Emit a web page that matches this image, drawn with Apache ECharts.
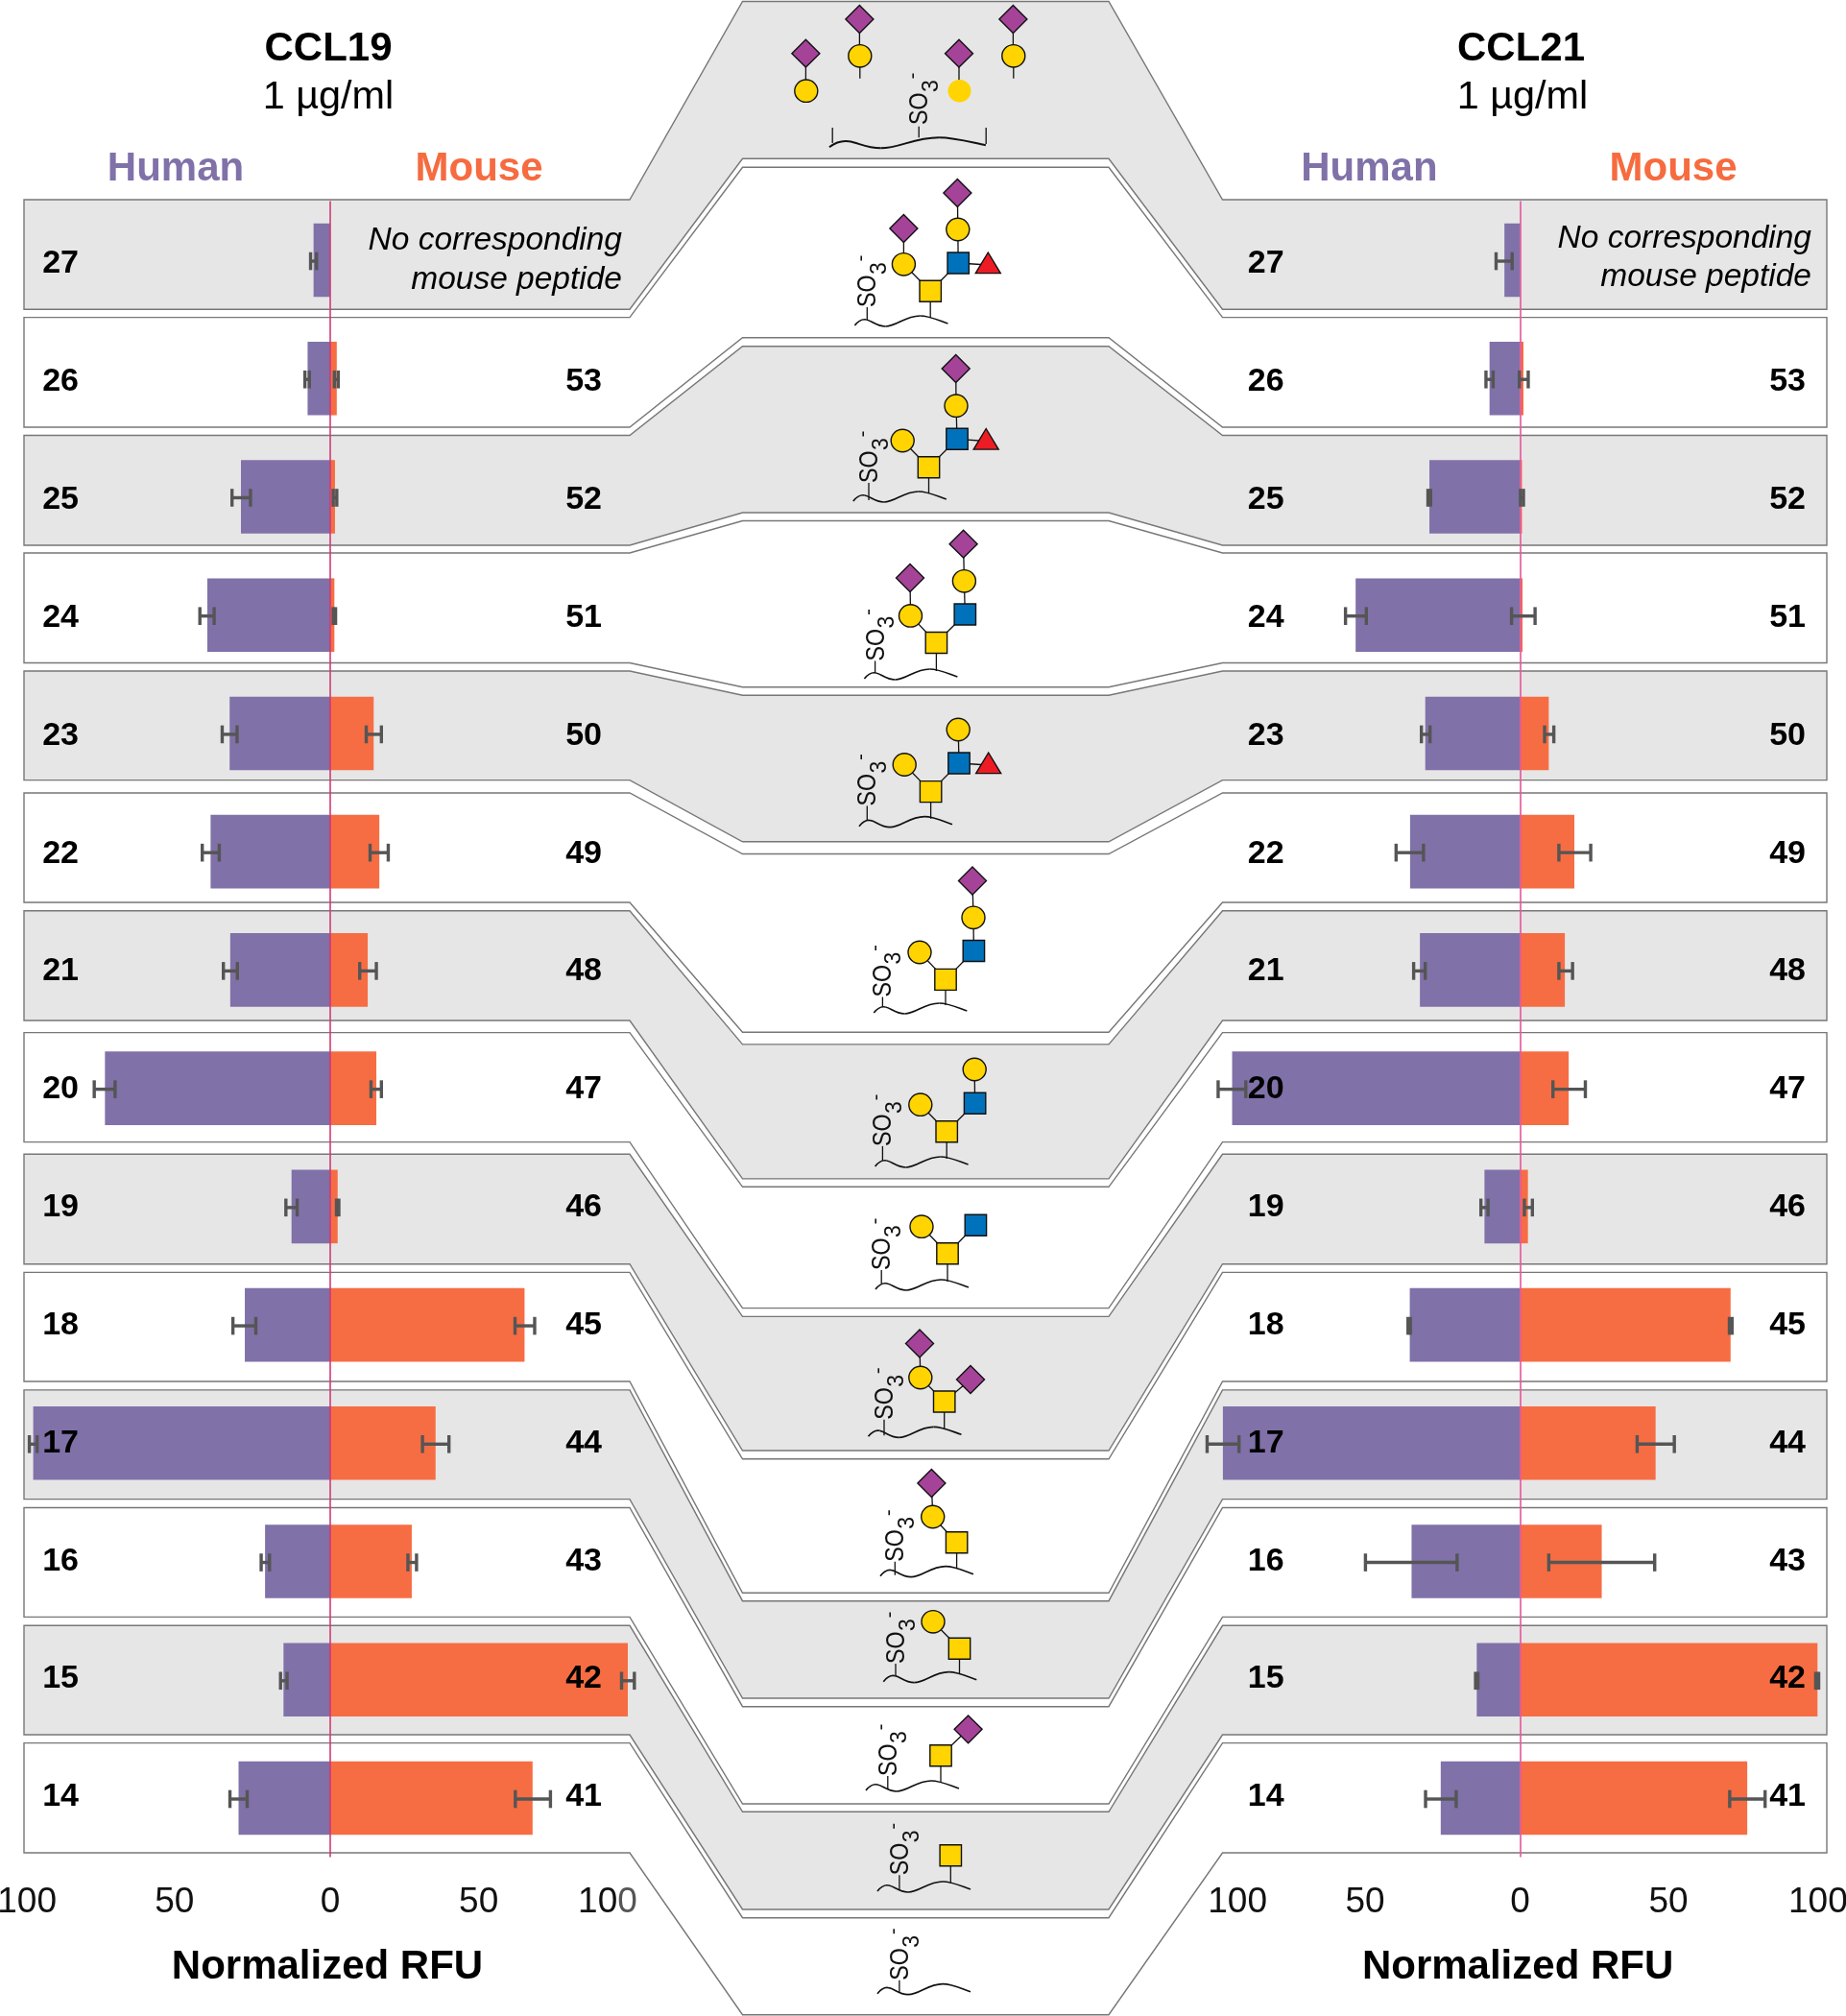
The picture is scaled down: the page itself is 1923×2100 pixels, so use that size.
<!DOCTYPE html>
<html><head><meta charset="utf-8">
<style>html,body{margin:0;padding:0;background:#fff}#c{width:1923px;height:2100px}</style>
<script src="https://cdn.jsdelivr.net/npm/echarts@6/dist/echarts.min.js"></script>
</head><body><div id="c"></div>
<script>
// ---------- DATA (top row first) ----------
const humanIds = ['27','26','25','24','23','22','21','20','19','18','17','16','15','14'];
const mouseIds = ['','53','52','51','50','49','48','47','46','45','44','43','42','41'];

const ccl19Human     = [-5.6,-7.6,-30,-41.3,-33.8,-40.2,-33.6,-75.7,-13,-28.7,-99.8,-21.9,-15.7,-30.8];
const ccl19HumanLow  = [-6.6,-8.5,-33,-43.8,-36.3,-43,-35.9,-79.3,-14.9,-32.7,-101.1,-23.2,-16.7,-33.7];
const ccl19HumanHigh = [-4.6,-7,-26.8,-39,-31.3,-37.3,-31.2,-72.3,-11.1,-25,-98.5,-20.4,-14.5,-27.9];
const ccl19Mouse     = [null,2.2,1.6,1.4,14.6,16.5,12.6,15.5,2.5,65.3,35.4,27.4,100,68];
const ccl19MouseLow  = [null,1.4,1,1,12.1,13.4,9.9,13.7,2.1,62.1,31,26.1,97.9,62.2];
const ccl19MouseHigh = [null,2.7,2.2,1.8,17.2,19.5,15.5,17.2,2.9,68.7,39.9,29,102.2,74];

const ccl21Human     = [-5.3,-10.3,-30.5,-55.3,-31.9,-37,-33.7,-96.8,-12,-37.1,-99.9,-36.5,-14.6,-26.7];
const ccl21HumanLow  = [-8.1,-11.5,-31,-58.7,-33.2,-41.7,-35.8,-101.5,-13.2,-37.7,-105.2,-52,-15,-31.8];
const ccl21HumanHigh = [-2.7,-9.1,-30.1,-51.7,-30.3,-32.5,-31.9,-92.2,-10.8,-36.9,-94.5,-21.2,-14.2,-21.5];
const ccl21Mouse     = [null,1.1,0.6,0.8,9.6,18.2,15,16.3,2.6,70.7,45.5,27.4,99.9,76.3];
const ccl21MouseLow  = [null,-0.3,0.1,-2.9,8.2,13,13,11,1.4,70.3,39.3,9.6,99.3,70.4];
const ccl21MouseHigh = [null,2.7,1.1,5,11.3,23.7,17.6,21.9,4.1,71.2,51.8,45.2,100.3,82.3];

const tickLabels = ['100','50','0','50','100'];
const ccl19TickPlaces = [-101.9,-52.3,0,49.9,93.2];
const ccl21TickPlaces = [-95,-52.1,0,49.8,100.1];

// ---------- LAYOUT ----------
const FONT = '"Liberation Sans", Arial, sans-serif';
const HUMAN = '#8071a9', MOUSE = '#f66d43', ERR = '#555555';
const PX = 3.1, RANGE = 108, GRID_TOP = 209.4, ROW = 123.23, BAR = 76.6;
const GRID_H = ROW * humanIds.length;

// band edges: left/right side top, bottom; centre top, bottom
const sideTop    = [208,330.6,453.5,576,699,826,948.8,1075.6,1202.3,1325.4,1447.9,1570.5,1693.3,1815.6];
const sideBottom = [322.2,445,568,690.5,812.6,940,1063,1189.6,1316.7,1439,1561.6,1684.4,1807,1930];
const midTop     = [1.5,174.3,360.7,542.5,724.2,889.5,1087.9,1236.3,1371.4,1519.8,1667.7,1777.7,1887.3,1997.7];
const midBottom  = [165.3,351.7,534,715.8,876.8,1075.3,1227.9,1362.6,1511,1659.3,1769,1879,1989,2098.7];

// glycan sketches: node = [kind, x, y]; link = [i, j]
const glycans = [
 {wave:[890.4,339],stem:903.3,so:[913.6,320],nodes:[['D',997.4,201],['C',997.8,239],['B',998.2,274],['T',1029.3,276],['G',969.2,303.3],['C',941.4,275.3],['D',941.4,238]],links:[[0,1],[1,2],[2,3],[2,4],[4,5],[5,6]]},
 {wave:[888.8,522],stem:905,so:[915.7,503],nodes:[['D',995.7,384],['C',996,422.7],['B',997,457.3],['T',1027.2,459.5],['G',967.5,486.7],['C',940.2,459]],links:[[0,1],[1,2],[2,3],[2,4],[4,5]]},
 {wave:[900.4,707],stem:911.6,so:[922,688.4],nodes:[['D',1003.6,566.7],['C',1004.4,605.3],['B',1005.3,640],['G',975.4,669.5],['C',948.5,641.4],['D',948,602]],links:[[0,1],[1,2],[2,3],[3,4],[4,5]]},
 {wave:[895,860.7],stem:903.3,so:[913.6,839.6],nodes:[['C',998.2,760],['B',999,795],['T',1029.7,797],['G',969.6,824.6],['C',942.2,796.5]],links:[[0,1],[1,2],[1,3],[3,4]]},
 {wave:[910.3,1055],stem:919.4,so:[929,1038.6],nodes:[['D',1013,917.5],['C',1014,955.8],['B',1014.4,990.5],['G',985,1020.4],['C',958,992]],links:[[0,1],[1,2],[2,3],[3,4]]},
 {wave:[911.6,1215],stem:919.4,so:[929.4,1193.9],nodes:[['C',1015.2,1114],['B',1015.6,1149.3],['G',986.2,1178.8],['C',958.8,1150.7]],links:[[0,1],[1,2],[2,3]]},
 {wave:[912,1343],stem:918.2,so:[928.6,1323],nodes:[['B',1016.4,1276.3],['G',987,1305.8],['C',960,1277.7]],links:[[0,1],[1,2]]},
 {wave:[904.5,1496.3],stem:921,so:[931.5,1478.8],nodes:[['D',958,1399.5],['C',958.8,1435],['G',983.7,1460],['D',1011,1437]],links:[[0,1],[1,2],[2,3]]},
 {wave:[917,1641.7],stem:932.3,so:[942.6,1626.7],nodes:[['D',970.4,1545],['C',971.7,1580],['G',996.6,1606.7]],links:[[0,1],[1,2]]},
 {wave:[920.3,1751.7],stem:933,so:[943.5,1733],nodes:[['C',972,1689.3],['G',999.5,1717.3]],links:[[0,1]]},
 {wave:[902,1865],stem:924.8,so:[935,1850],nodes:[['D',1008.6,1801.3],['G',980,1828.7]],links:[[0,1]]},
 {wave:[914,1970],stem:936.9,so:[947.6,1953.3],nodes:[['G',990.3,1932.7]],links:[]},
 {wave:[914,2076.7],stem:936.9,so:[947.6,2062.7],nodes:[],links:[]}
];

// ---------- GRAPHIC HELPERS ----------
const g = [];
const line = (x1,y1,x2,y2,w,c) => g.push({type:'line',z:50,shape:{x1,y1,x2,y2},style:{stroke:c||'#111',lineWidth:w||1.3}});
const text = (t,x,y,font,fill,align) => g.push({type:'text',z:60,style:{text:t,x,y,font:font+' '+FONT,fill:fill||'#000',textAlign:align||'center',textVerticalAlign:'middle'}});

function band(i){
  const lt=sideTop[i],lb=sideBottom[i],mt=midTop[i],mb=midBottom[i];
  g.push({type:'polygon',z:0,shape:{points:[[25,lt],[656,lt],[773.5,mt],[1155,mt],[1273.5,lt],[1903,lt],[1903,lb],[1273.5,lb],[1155,mb],[773.5,mb],[656,lb],[25,lb]]},
    style:{fill:i%2?'#ffffff':'#e6e6e6',stroke:'#777777',lineWidth:1.4}});
}
function node(k,x,y,noStroke){
  const st={fill:{D:'#a54399',C:'#ffd400',G:'#ffd400',B:'#0072bc',T:'#ed1c24'}[k],stroke:noStroke?null:'#111',lineWidth:1.4};
  if(k==='D') g.push({type:'polygon',z:55,shape:{points:[[x,y-14.4],[x+14.5,y],[x,y+14.4],[x-14.5,y]]},style:st});
  if(k==='C') g.push({type:'ellipse',z:55,shape:{cx:x,cy:y,rx:12,ry:11.7},style:st});
  if(k==='G'||k==='B') g.push({type:'rect',z:55,shape:{x:x-11.2,y:y-11,width:22.4,height:22},style:st});
  if(k==='T') g.push({type:'polygon',z:55,shape:{points:[[x,y-13],[x+13,y+8.6],[x-13,y+8.6]]},style:st});
}
function wave(x,y,s){
  const segs=[[0,0,4,-5,8,-7,12,-6],[12,-6,18,-5,22,1,32,1],[32,1,44,1,52,-10,68,-10],[68,-10,78,-10,88,-5,97,-2]];
  segs.forEach(q=>g.push({type:'bezierCurve',z:50,
    shape:{x1:x+q[0]*s,y1:y+q[1],cpx1:x+q[2]*s,cpy1:y+q[3],cpx2:x+q[4]*s,cpy2:y+q[5],x2:x+q[6]*s,y2:y+q[7]},
    style:{fill:null,stroke:'#111',lineWidth:s>1?2:1.7}}));
}
function so3(base,bottom){
  const t=(str,off,along,size,sx)=>g.push({type:'text',z:55,x:base+off,y:bottom-along,rotation:Math.PI/2,scaleX:sx||1,
    style:{text:str,x:0,y:0,font:size+'px '+FONT,fill:'#111',textAlign:'left',textVerticalAlign:'middle'}});
  t('SO',-9,0,28,0.83); t('3',3,34,23); t('-',-16.5,47.5,21);
}

// ---------- BUILD GRAPHIC ----------
sideTop.forEach((_,i)=>band(i));

// top (unattached) glycan
[[839.4,55.7,94.7],[895.4,20,58.3],[999,55.7,94.7],[1055.4,20,58.3]].forEach(d=>line(d[0],d[1],d[0],d[2]));
line(895.8,58,895.8,81.7); line(1055.8,58,1055.8,81.7);
node('D',839.4,55.7); node('D',895.4,20); node('D',999,55.7); node('D',1055.4,20);
node('C',839.8,94.7); node('C',895.8,58.3); node('C',999.5,94.7,true); node('C',1055.8,58.3);
wave(863.9,153.3,1.68);
line(867.2,133,867.2,149); line(1027.2,133,1027.2,150); line(957.2,131.7,957.2,143.3);
so3(967.5,130);

glycans.forEach(o=>{
  wave(o.wave[0],o.wave[1],1);
  const dx=o.stem-o.wave[0];
  line(o.stem,o.so[1],o.stem,o.wave[1]-(dx<14?6:1));
  so3(o.so[0],o.so[1]);
  o.links.forEach(l=>line(o.nodes[l[0]][1],o.nodes[l[0]][2],o.nodes[l[1]][1],o.nodes[l[1]][2]));
  o.nodes.forEach(n=>{
    node(n[0],n[1],n[2]);
    if(n[0]==='G') line(n[1],n[2]+11,n[1],o.wave[1]-8);
  });
});

// headings
text('CCL19',342,51.5,'bold 42px');
text('1 µg/ml',342,102,'41.4px');
text('Human',183,176,'bold 42px',HUMAN);
text('Mouse',499,176,'bold 42px','#f66b3f');
text('No corresponding',648,250.5,'italic 33.5px','#000','right');
text('mouse peptide',648,291.5,'italic 33.5px','#000','right');
text('CCL21',1584.5,51.5,'bold 42px');
text('1 µg/ml',1586,102,'41.4px');
text('Human',1426.4,176,'bold 42px',HUMAN);
text('Mouse',1743,176,'bold 42px','#f66b3f');
text('No corresponding',1887,248.5,'italic 33.5px','#000','right');
text('mouse peptide',1887,288.5,'italic 33.5px','#000','right');

// ---------- CHART ----------
const errItem = (params, api) => {
  const r = api.value(0);
  const a = api.coord([api.value(1), r]), b = api.coord([api.value(2), r]);
  const y = a[1] + 1, s = {stroke: ERR, lineWidth: 3.4};
  return {type:'group',children:[
    {type:'line',shape:{x1:a[0],y1:y,x2:b[0],y2:y},style:s},
    {type:'line',shape:{x1:a[0],y1:y-9.3,x2:a[0],y2:y+9.3},style:s},
    {type:'line',shape:{x1:b[0],y1:y-9.3,x2:b[0],y2:y+9.3},style:s}
  ]};
};
const errData = (lo,hi) => lo.map((v,i)=>v==null?null:[i,v,hi[i]]).filter(Boolean);

// row labels sit a touch lower at the top of the stack than at its foot
const rowRich = {};
humanIds.forEach((_,i)=>{
  const drop = 4 - 0.4*i;
  rowRich['r'+i] = {fontFamily:FONT,fontWeight:'bold',fontSize:34,color:'#000',
    padding: drop>=0 ? [2*drop,0,0,0] : [0,0,-2*drop,0]};
});

const grids = [], xAxes = [], yAxes = [], series = [];
function panel(idx, zero, humanV, hLo, hHi, mouseV, mLo, mHi, places, nameShift, zeroColor, marginL, marginR){
  const left = zero - RANGE*PX, width = 2*RANGE*PX;
  grids.push({left, top:GRID_TOP, width, height:GRID_H, containLabel:false, outerBoundsMode:'none'});
  xAxes.push({gridIndex:idx,type:'value',min:-RANGE,max:RANGE,position:'bottom',splitLine:{show:false},
    axisLine:{show:false},axisTick:{show:false},
    name:'Normalized RFU',nameLocation:'middle',nameGap:94,nameMoveOverlap:false,
    nameTextStyle:{fontFamily:FONT,fontWeight:'bold',fontSize:42,color:'#000',padding:[0,nameShift,0,0]},
    axisLabel:{customValues:places,margin:29,fontFamily:FONT,fontSize:37,color:'#111',hideOverlap:false,
      showMinLabel:true,showMaxLabel:true,
      formatter:v=>{const i=places.indexOf(v),t=tickLabels[i]; return (idx===0&&i===4)?'{a|10}{b|0}':t;},
      rich:{a:{fontFamily:FONT,fontSize:37,color:'#111'},b:{fontFamily:FONT,fontSize:37,color:'#555'}}}});
  const cat = (data,pos,margin)=>({gridIndex:idx,type:'category',inverse:true,data,position:pos,z:4,
    axisLine:{show:false,onZero:false},axisTick:{show:false},splitLine:{show:false},
    axisLabel:{inside:true,interval:0,margin,fontFamily:FONT,fontWeight:'bold',fontSize:34,color:'#000',hideOverlap:false,
      formatter:(v,i)=>v===''?'':`{r${i}|${v}}`,rich:rowRich}});
  const yi = yAxes.length;
  yAxes.push(cat(humanIds,'left',marginL), cat(mouseIds,'right',marginR));
  series.push(
    {type:'bar',name:'Human',xAxisIndex:idx,yAxisIndex:yi,data:humanV,barWidth:BAR,itemStyle:{color:HUMAN},z:2,silent:true,
      markLine:{silent:true,symbol:'none',z:5,animation:false,label:{show:false},lineStyle:{color:zeroColor,width:1.6,type:'solid'},data:[{xAxis:0}]}},
    {type:'bar',name:'Mouse',xAxisIndex:idx,yAxisIndex:yi+1,data:mouseV,barWidth:BAR,itemStyle:{color:MOUSE},z:2,silent:true},
    {type:'custom',xAxisIndex:idx,yAxisIndex:yi,z:6,silent:true,clip:false,renderItem:errItem,encode:{x:[1,2],y:0},data:errData(hLo,hHi)},
    {type:'custom',xAxisIndex:idx,yAxisIndex:yi+1,z:6,silent:true,clip:false,renderItem:errItem,encode:{x:[1,2],y:0},data:errData(mLo,mHi)}
  );
}
panel(0,344,ccl19Human,ccl19HumanLow,ccl19HumanHigh,ccl19Mouse,ccl19MouseLow,ccl19MouseHigh,ccl19TickPlaces,6,'#d13a75',35,51.8);
panel(1,1583.6,ccl21Human,ccl21HumanLow,ccl21HumanHigh,ccl21Mouse,ccl21MouseLow,ccl21MouseHigh,ccl21TickPlaces,5,'#e6559a',51,37.4);

const chart = echarts.init(document.getElementById('c'),null,{renderer:'canvas',width:1923,height:2100});
chart.setOption({animation:false,backgroundColor:'#fff',tooltip:{show:false},grid:grids,xAxis:xAxes,yAxis:yAxes,series,graphic:{elements:g}});
</script></body></html>
